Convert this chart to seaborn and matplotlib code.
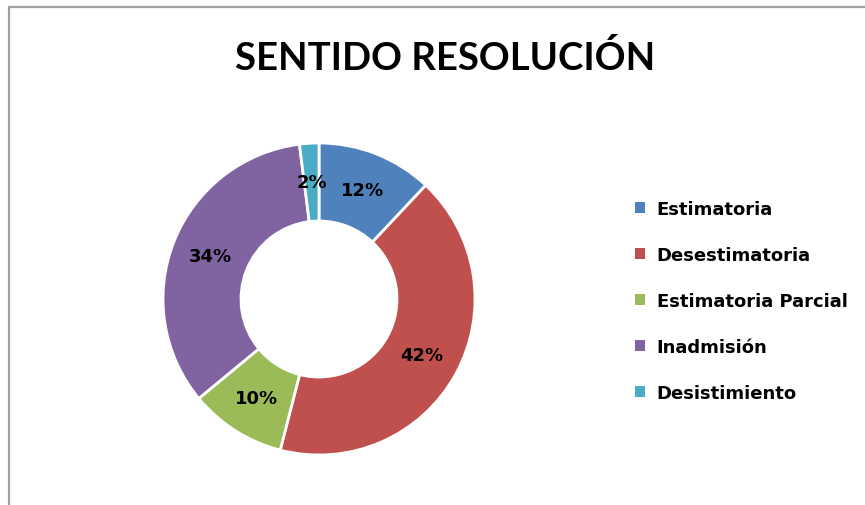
import matplotlib
matplotlib.use("Agg")
import matplotlib.pyplot as plt
from matplotlib.lines import Line2D
from matplotlib.patches import Patch
import seaborn as sns

categories = ["Estimatoria", "Desestimatoria", "Estimatoria Parcial", "Inadmisión", "Desistimiento"]
percentages = [12, 42, 10, 34, 2]
colors = ["#4F81BD", "#C0504D", "#9BBB59", "#8064A2", "#4BACC6"]
title = "SENTIDO RESOLUCIÓN"

sns.set_theme(style="white")
plt.rcParams["font.family"] = ["DejaVu Sans"]

W, H = 865, 506
fig = plt.figure(figsize=(W / 100, H / 100), dpi=100)

# chart frame (top and left edges visible)
fig.add_artist(Line2D([9 / W, 9 / W], [0, 1 - 8 / H], color="#a0a0a0", lw=1.6))
fig.add_artist(Line2D([9 / W, 1], [1 - 8 / H, 1 - 8 / H], color="#a0a0a0", lw=1.6))

# donut
cx, cy, r = 319, 300, 156
ax = fig.add_axes([(cx - r) / W, 1 - (cy + r) / H, 2 * r / W, 2 * r / H])
wedges, texts, autotexts = ax.pie(
    percentages, colors=colors, startangle=90, counterclock=False,
    autopct=lambda p: f"{p:.0f}%", pctdistance=0.75,
    wedgeprops=dict(width=0.5, edgecolor="white", linewidth=2),
    textprops=dict(fontsize=13, fontweight="bold", color="black"),
)
ax.set_xlim(-1, 1)
ax.set_ylim(-1, 1)
ax.set_aspect("equal")
ax.axis("off")

fig.text(445 / W, 1 - 58 / H, title, ha="center", va="center", color="black",
         fontsize=27.5, fontweight="bold", family=["Lato", "DejaVu Sans"])

handles = [Patch(facecolor=c, edgecolor="none") for c in colors]
fig.legend(handles, categories, loc="center left", bbox_to_anchor=(635 / W, 1 - 302 / H),
           frameon=False, prop=dict(weight="bold", size=13), labelcolor="black",
           handlelength=0.55, handleheight=0.55, handletextpad=0.65,
           labelspacing=1.55, borderpad=0, borderaxespad=0)

fig.savefig("out.png", dpi=100)
